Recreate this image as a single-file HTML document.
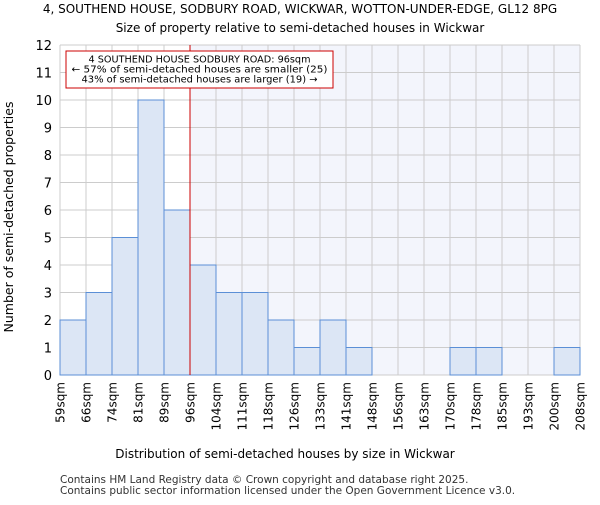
<!DOCTYPE html>
<html><head><meta charset="utf-8"><style>
body{margin:0;background:#fff;}
svg{font-family:"DejaVu Sans","Liberation Sans",sans-serif;}
</style></head><body>
<svg id="chart" width="600" height="500" xmlns="http://www.w3.org/2000/svg">
<text x="300" y="13" text-anchor="middle" font-size="12">4, SOUTHEND HOUSE, SODBURY ROAD, WICKWAR, WOTTON-UNDER-EDGE, GL12 8PG</text>
<text x="300" y="32" text-anchor="middle" font-size="12">Size of property relative to semi-detached houses in Wickwar</text>
<g id="plot"></g>
<text x="285" y="458" text-anchor="middle" font-size="12">Distribution of semi-detached houses by size in Wickwar</text>
<text transform="translate(13,217) rotate(-90)" text-anchor="middle" font-size="12.5">Number of semi-detached properties</text>
<text x="60" y="483" font-size="10.5" fill="#333">Contains HM Land Registry data © Crown copyright and database right 2025.</text>
<text x="60" y="494" font-size="10.5" fill="#333">Contains public sector information licensed under the Open Government Licence v3.0.</text>
</svg>
<script>
const edgeLabels=["59sqm","66sqm","74sqm","81sqm","89sqm","96sqm","104sqm","111sqm","118sqm","126sqm","133sqm","141sqm","148sqm","156sqm","163sqm","170sqm","178sqm","185sqm","193sqm","200sqm","208sqm"];
const counts=[2,3,5,10,6,4,3,3,2,1,2,1,0,0,0,1,1,0,0,1];
const yTicks=[0,1,2,3,4,5,6,7,8,9,10,11,12];
const markerEdge=5;
const NS="http://www.w3.org/2000/svg";
const g=document.getElementById('plot');
const X0=60,X1=580,Y0=375,Y1=45,YMAX=12;
const bw=(X1-X0)/counts.length;
const xs=i=>X0+i*bw;
const ys=v=>Y0-(v/YMAX)*(Y0-Y1);
function mk(t,a){const e=document.createElementNS(NS,t);for(const k in a)e.setAttribute(k,a[k]);g.appendChild(e);return e;}
let e=mk('rect',{x:xs(markerEdge),y:Y1,width:X1-xs(markerEdge),height:Y0-Y1,fill:'#f3f5fc'});


yTicks.forEach(t=>{
 let l=mk('line',{x1:X0,x2:X1,y1:ys(t),y2:ys(t),stroke:'#ccc'});
 
 
 let tx=mk('text',{x:X0-8,y:ys(t)+5,'text-anchor':'end','font-size':'13'});tx.textContent=t;
 
 
});
edgeLabels.forEach((lab,i)=>{
 let l=mk('line',{x1:xs(i),x2:xs(i),y1:Y1,y2:Y0,stroke:'#ccc'});
 
 
 let tx=mk('text',{'text-anchor':'end','font-size':'12',transform:`translate(${xs(i)+4.5},382) rotate(-90)`});tx.textContent=lab;
 
 
});
counts.forEach((c,i)=>{
 if(c<=0)return;
 let r=mk('rect',{x:xs(i),y:ys(c),width:bw,height:Y0-ys(c),fill:'#dce6f5',stroke:'#5b8fd6','stroke-width':1});
 
 
});
e=mk('line',{x1:xs(markerEdge),x2:xs(markerEdge),y1:Y1,y2:Y0,stroke:'#cc0000','stroke-width':1});


e=mk('rect',{x:66,y:51,width:267,height:37,fill:'#fff',stroke:'#cc0000'});


["4 SOUTHEND HOUSE SODBURY ROAD: 96sqm","← 57% of semi-detached houses are smaller (25)","43% of semi-detached houses are larger (19) →"].forEach((s,i)=>{
 let t=mk('text',{x:199.5,y:62.5+i*10,'text-anchor':'middle','font-size':'10','textLength':i==0?222:i==1?256:236,'lengthAdjust':'spacingAndGlyphs'});t.textContent=s;
 
 
});
</script>
</body></html>
